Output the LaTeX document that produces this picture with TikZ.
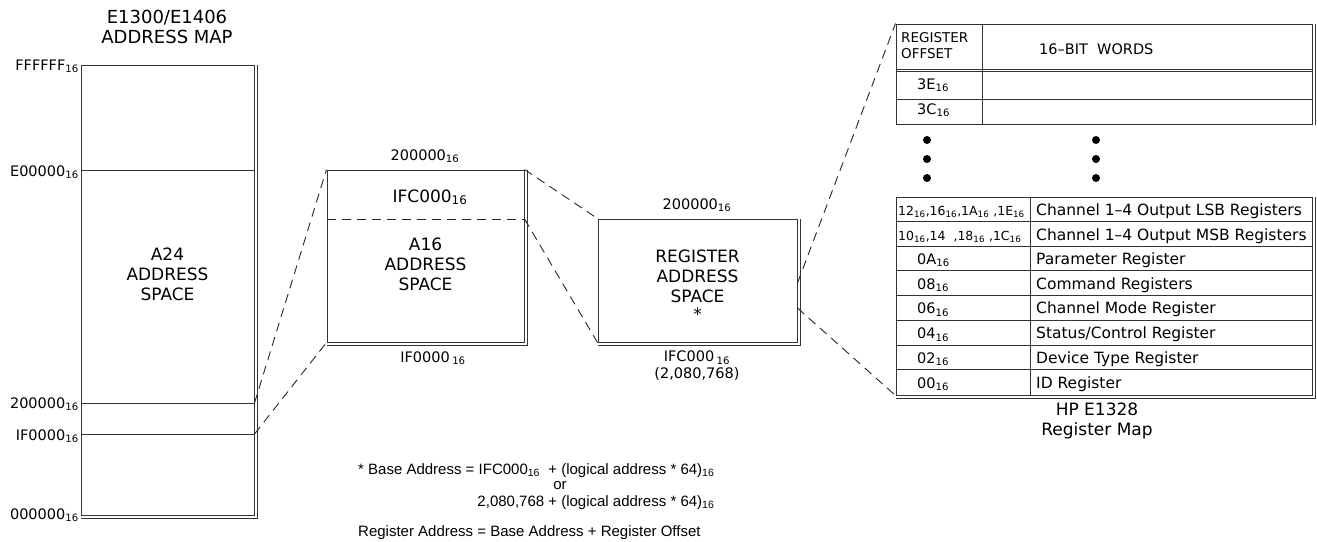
\documentclass[tikz,border=0pt]{standalone}
\usepackage{fontspec}
\setmainfont{DejaVu Sans}
\newfontfamily\notefont{Liberation Sans}
\usetikzlibrary{positioning}

\newcommand{\hx}{\textsubscript{16}}
\newcommand{\fsz}[2]{\fontsize{#1}{#2}\selectfont}
% extra right and bottom edge of a box
\newcommand{\shadowedge}[1]{\draw[edge] ([xshift=2.5pt]#1.north east) -- ([shift={(2.5pt,-2.5pt)}]#1.south east) -- ([yshift=-2.5pt]#1.south west);}

\tikzset{
  edge/.style={draw=black!80, line width=1pt},
  mapbox/.style={edge, rectangle, inner sep=0pt},
  zoomline/.style={draw=black!85, line width=0.9pt, dash pattern=on 9pt off 6pt},
  lbl/.style={inner sep=0pt, font=\fsz{14.5}{17}},
  boxtxt/.style={inner sep=0pt, align=center, font=\fsz{17}{20}},
  rowtxt/.style={inner sep=0pt, anchor=base west, font=\fsz{15.5}{18}},
  offtxt/.style={inner sep=0pt, anchor=base west, font=\fsz{14.5}{18}},
  notetxt/.style={inner sep=0pt, font=\notefont\fsz{15}{18}},
  dot/.style={circle, fill=black, inner sep=0pt, minimum size=8pt}
}

\begin{document}
\begin{tikzpicture}[x=1pt, y=-1pt]
\useasboundingbox (0,0) rectangle (1317,541);

% E1300/E1406 address map
\node[boxtxt, font=\fsz{18}{20}] (maptitle) at (167,27) {E1300/E1406\\ADDRESS MAP};
\node[mapbox, minimum width=173pt, minimum height=450pt] (amap) at (167.5,290) {};
\shadowedge{amap}
\draw[edge] (amap.west |- 0,170) -- (amap.east |- 0,170);
\draw[edge] (amap.west |- 0,403) -- (amap.east |- 0,403);
\draw[edge] (amap.west |- 0,434) -- (amap.east |- 0,434);
\node[boxtxt] (a24txt) at (167.5,274) {A24\\ADDRESS\\SPACE};
\node[lbl, anchor=base east] (lfff) at (79,70) {FFFFFF\hx};
\node[lbl, anchor=base east] (le00) at (79,176) {E00000\hx};
\node[lbl, anchor=base east] (l200) at (79,408) {200000\hx};
\node[lbl, anchor=base east] (l1f0) at (79,440) {IF0000\hx};
\node[lbl, anchor=base east] (l000) at (79,519) {000000\hx};

% A16 space
\node[mapbox, minimum width=197pt, minimum height=172pt] (a16box) at (425.5,256) {};
\shadowedge{a16box}
\draw[zoomline] (a16box.west |- 0,219) -- (a16box.east |- 0,219);
\node[boxtxt, anchor=base] (a16top) at (430,202) {IFC000\hx};
\node[boxtxt] (a16txt) at (425.5,264) {A16\\ADDRESS\\SPACE};
\node[lbl, anchor=base] (a16hi) at (425,160) {200000\hx};
\node[lbl, anchor=base] (a16lo) at (433,362) {IF0000\,\hx};

% register space
\node[mapbox, minimum width=199pt, minimum height=123pt] (regbox) at (697.5,280.5) {};
\shadowedge{regbox}
\node[boxtxt] (regtxt) at (697.5,276) {REGISTER\\ADDRESS\\SPACE};
\node[boxtxt] (regstar) at (697.5,314) {*};
\node[lbl, anchor=base] (reghi) at (697,209) {200000\hx};
\node[lbl, align=center] (reglo) at (697,366) {IFC000\,\hx\\(2,080,768)};

% register offset table
\node[mapbox, minimum width=416pt, minimum height=100pt] (offtab) at (1104,74) {};
\draw[edge] ([xshift=2.5pt]offtab.north east) -- ([xshift=2.5pt]offtab.south east);
\draw[edge] (offtab.west |- 0,69) -- (offtab.east |- 0,69);
\draw[edge] (offtab.west |- 0,71) -- (offtab.east |- 0,71);
\draw[edge] (offtab.west |- 0,99) -- (offtab.east |- 0,99);
\draw[edge] (offtab.north -| 982,0) -- (offtab.south -| 982,0);
\node[inner sep=0pt, anchor=west, align=left, font=\fsz{13.5}{16}] (offhead) at (901,46) {REGISTER\\OFFSET};
\node[inner sep=0pt, anchor=base west, font=\fsz{14.5}{17}] (wordhead) at (1039,54) {16--BIT\ \ WORDS};
\node[offtxt] (o3e) at (917,89) {3E\hx};
\node[offtxt] (o3c) at (917,114) {3C\hx};
\foreach \dx in {927,1096}
  \foreach \dy in {140,159,178}
    \node[dot] at (\dx,\dy) {};

% register rows
\node[mapbox, minimum width=416pt, minimum height=198pt] (regtab) at (1104,296) {};
\shadowedge{regtab}
\foreach \k in {1,...,7}
  \draw[edge] ([yshift={-24.75pt*\k}]regtab.north west) -- ([yshift={-24.75pt*\k}]regtab.north east);
\draw[edge] (regtab.north -| 1030,0) -- (regtab.south -| 1030,0);
\node[offtxt, font=\fsz{12.5}{15}] (o12) at (898,215) {12\hx,16\hx,1A\hx\ ,1E\hx};
\node[offtxt, font=\fsz{12.5}{15}] (o10) at (898,240) {10\hx,14\ \ ,18\hx\ ,1C\hx};
\node[rowtxt] (d12) at (1036,215) {Channel\ 1--4\ Output\ LSB\ Registers};
\node[rowtxt] (d10) at (1036,240) {Channel\ 1--4\ Output\ MSB\ Registers};
\foreach \off/\desc [count=\i from 2] in {0A/Parameter Register, 08/Command Registers,
    06/Channel Mode Register, 04/{Status/Control Register}, 02/Device Type Register, 00/ID Register}{
  \pgfmathsetmacro\yb{197+24.75*(\i+0.5)+5.5}
  \node[offtxt] at (917,\yb) {\off\hx};
  \node[rowtxt] at (1036,\yb) {\desc};
}
\node[boxtxt, font=\fsz{17}{20}] (maptxt) at (1097,421) {HP E1328\\Register Map};

% zoom lines
\coordinate (m200) at (amap.east |- 0,403);
\coordinate (m1f0) at (amap.east |- 0,434);
\coordinate (a16cut) at (a16box.east |- 0,219);
\coordinate (rupper) at (regbox.east |- 0,283);
\coordinate (rlower) at (regbox.east |- 0,308);
\draw[zoomline] (m200) -- (a16box.north west);
\draw[zoomline] (m1f0) -- (a16box.south west);
\draw[zoomline] (a16box.north east) -- (regbox.north west);
\draw[zoomline] (a16cut) -- (regbox.south west);
\draw[zoomline] (rupper) -- (offtab.north west);
\draw[zoomline] (rlower) -- (regtab.south west);

% base address note
\node[notetxt, anchor=base west] (basea) at (358,474) {* Base Address = IFC000\hx\ \ + (logical address * 64)\hx};
\node[notetxt, anchor=base east] (baseb) at (basea.base east |- 0,506) {2,080,768 + (logical address * 64)\hx};
\node[notetxt, anchor=base] (ortxt) at (560,489) {or};
\node[notetxt, anchor=base west] (regaddr) at (358,536) {Register Address = Base Address + Register Offset};
\end{tikzpicture}
\end{document}
